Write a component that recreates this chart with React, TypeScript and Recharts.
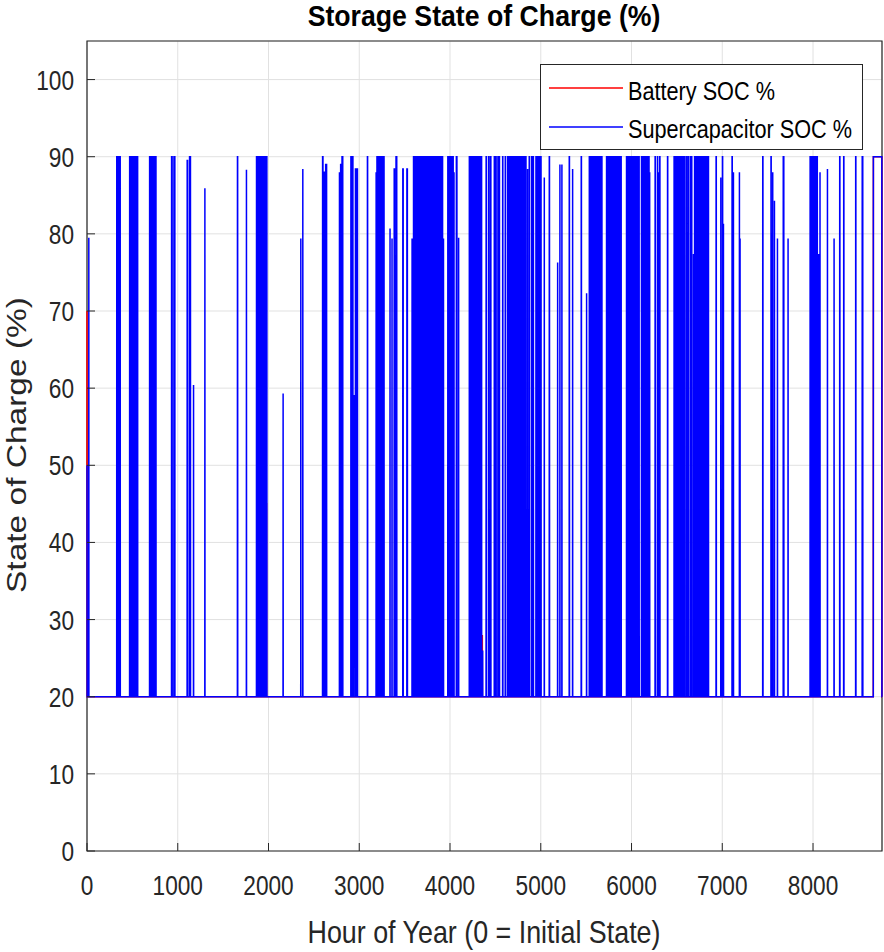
import { LineChart, Line, XAxis, YAxis, CartesianGrid, Legend, ReferenceArea } from 'recharts'

const hourTicks = [0, 1000, 2000, 3000, 4000, 5000, 6000, 7000, 8000]
const socTicks = [0, 10, 20, 30, 40, 50, 60, 70, 80, 90, 100]
const lastHour = 8760
const baseSoc = 20

// first hours of each series, before the pulses start
const batteryStart = [[0, 70], [1, 50], [3, 20]]
const superStart = [[0, 50], [2, 20]]

// battery pulses above the 20 % floor: [from hour, to hour, peak %]
const batteryPulses = [
  [1932, 1940, 49], [1955, 1962, 49], [1975, 1978, 45], [4356, 4356, 28], [8665, 8758, 90],
]

// supercapacitor pulses: [from hour, to hour, peak %]
const superPulses = [
  [20, 20, 79.5],
  [328, 332, 90], [339, 343, 90], [350, 354, 90], [360, 366, 90],
  [470, 476, 90], [482, 486, 90], [494, 500, 90], [505, 512, 90], [520, 526, 90], [530, 536, 90], [542, 550, 90], [553, 558, 90],
  [690, 696, 90], [702, 708, 90], [715, 722, 90], [735, 740, 90], [748, 760, 90],
  [932, 938, 90], [958, 968, 90],
  [1104, 1108, 89.5], [1130, 1140, 90], [1174, 1174, 60.4], [1299, 1299, 85.9],
  [1658, 1660, 90], [1757, 1757, 88.3],
  [1868, 1872, 90], [1885, 1890, 90], [1900, 1906, 90], [1915, 1918, 90], [1930, 1935, 90], [1948, 1955, 90], [1965, 1972, 90], [1978, 1982, 90],
  [2161, 2161, 59.3], [2356, 2356, 79.4], [2378, 2378, 88.4],
  [2596, 2600, 90], [2612, 2615, 88], [2630, 2640, 89],
  [2782, 2782, 88], [2795, 2800, 89], [2810, 2818, 90],
  [2908, 2914, 90], [2925, 2930, 90], [2935, 2950, 59], [2958, 2962, 88.4], [2976, 2980, 88.4],
  [3090, 3092, 90],
  [3186, 3186, 88], [3195, 3200, 90], [3210, 3215, 90], [3225, 3230, 90], [3240, 3246, 90], [3255, 3262, 90], [3268, 3273, 90],
  [3339, 3339, 80.7], [3361, 3361, 79.4], [3385, 3388, 88.4], [3405, 3413, 90],
  [3480, 3484, 88.4], [3525, 3530, 88.4],
  [3582, 3582, 79.4], [3598, 3604, 90], [3615, 3620, 90],
  [3633, 3637, 90], [3643, 3647, 90], [3652, 3656, 90], [3662, 3666, 90], [3671, 3675, 90], [3680, 3684, 90],
  [3690, 3694, 90], [3700, 3704, 90], [3709, 3713, 90], [3718, 3722, 90], [3728, 3732, 90], [3737, 3741, 90],
  [3746, 3750, 90], [3756, 3760, 90], [3766, 3770, 90], [3775, 3779, 90], [3784, 3788, 90], [3794, 3798, 90],
  [3803, 3807, 90], [3812, 3816, 90], [3822, 3826, 90], [3832, 3836, 90], [3841, 3845, 90], [3850, 3854, 90],
  [3860, 3864, 90], [3869, 3873, 90], [3878, 3882, 90], [3888, 3892, 90], [3897, 3901, 90], [3906, 3909, 90],
  [3915, 3918, 90], [3928, 3928, 79.4],
  [3976, 3979, 90], [3986, 3989, 90], [3995, 3998, 90], [4004, 4007, 90], [4013, 4016, 90], [4022, 4025, 90], [4031, 4035, 90],
  [4044, 4044, 88], [4070, 4076, 90], [4095, 4095, 79.5],
  [4213, 4216, 90], [4222, 4225, 90], [4232, 4235, 90], [4241, 4244, 90], [4250, 4253, 90], [4260, 4263, 90],
  [4270, 4273, 90], [4279, 4282, 90], [4288, 4291, 90], [4298, 4301, 90], [4307, 4310, 90], [4316, 4319, 90],
  [4326, 4329, 90], [4335, 4338, 90], [4344, 4348, 90],
  [4360, 4360, 26],
  [4398, 4400, 90], [4425, 4428, 90], [4446, 4450, 90],
  [4488, 4490, 90], [4505, 4508, 90], [4528, 4531, 90], [4541, 4545, 90],
  [4580, 4582, 90], [4609, 4611, 90], [4635, 4637, 90],
  [4653, 4656, 90], [4663, 4666, 90], [4672, 4675, 90], [4682, 4685, 90], [4691, 4694, 90], [4700, 4703, 90],
  [4710, 4713, 90], [4720, 4723, 90], [4729, 4732, 90], [4738, 4741, 90], [4748, 4751, 90], [4757, 4760, 90],
  [4766, 4769, 90], [4776, 4779, 90], [4786, 4789, 90], [4795, 4798, 90], [4804, 4807, 90], [4814, 4817, 90],
  [4823, 4826, 90], [4832, 4837, 90],
  [4855, 4855, 88.4], [4873, 4875, 90], [4899, 4901, 90], [4917, 4919, 90], [4947, 4949, 90], [4965, 4967, 90], [4983, 4985, 90], [5000, 5003, 90],
  [5039, 5039, 87.3], [5094, 5096, 90], [5186, 5186, 76.3], [5211, 5211, 89], [5233, 5233, 89], [5314, 5316, 90], [5351, 5351, 88.4], [5446, 5448, 90],
  [5505, 5505, 72.3],
  [5535, 5538, 90], [5545, 5548, 90], [5554, 5557, 90], [5564, 5567, 90], [5573, 5576, 90], [5583, 5586, 90],
  [5592, 5595, 90], [5602, 5605, 90], [5611, 5614, 90], [5621, 5624, 90], [5630, 5633, 90], [5640, 5643, 90],
  [5649, 5652, 90], [5659, 5662, 90], [5668, 5674, 90],
  [5725, 5728, 90], [5735, 5738, 90], [5744, 5747, 90], [5754, 5757, 90], [5763, 5766, 90], [5773, 5776, 90],
  [5782, 5785, 90], [5792, 5795, 90], [5801, 5804, 90], [5811, 5814, 90], [5820, 5823, 90], [5830, 5833, 90],
  [5839, 5842, 90], [5849, 5852, 90], [5858, 5861, 90], [5868, 5871, 90], [5877, 5886, 90],
  [5945, 5948, 90], [5955, 5958, 90], [5964, 5967, 90], [5974, 5977, 90], [5983, 5986, 90], [5993, 5996, 90],
  [6002, 6005, 90], [6012, 6015, 90], [6021, 6024, 90], [6031, 6034, 90], [6040, 6043, 90], [6050, 6053, 90],
  [6059, 6062, 90], [6069, 6072, 90], [6078, 6084, 90],
  [6110, 6113, 90], [6120, 6123, 90], [6130, 6133, 90], [6140, 6143, 90], [6150, 6153, 90], [6160, 6163, 90],
  [6170, 6173, 90], [6180, 6183, 90], [6190, 6193, 90], [6200, 6200, 88],
  [6260, 6262, 90], [6286, 6288, 90], [6297, 6297, 88], [6311, 6313, 90],
  [6397, 6399, 90], [6469, 6471, 90],
  [6481, 6484, 90], [6490, 6493, 90], [6500, 6503, 90], [6509, 6512, 90], [6519, 6522, 90], [6528, 6531, 90],
  [6538, 6541, 90], [6547, 6550, 90], [6557, 6560, 90], [6566, 6570, 90],
  [6585, 6587, 90], [6606, 6608, 90], [6625, 6627, 90], [6648, 6650, 90], [6662, 6664, 90], [6683, 6683, 77.4],
  [6695, 6698, 90], [6712, 6715, 90], [6728, 6731, 90],
  [6740, 6743, 90], [6750, 6753, 90], [6759, 6762, 90], [6769, 6772, 90], [6778, 6781, 90], [6788, 6791, 90],
  [6797, 6800, 90], [6807, 6810, 90], [6816, 6819, 90], [6826, 6829, 90], [6835, 6838, 90], [6844, 6848, 90],
  [6932, 6934, 90], [6984, 6984, 87.3], [7002, 7004, 90], [7013, 7013, 81.3], [7108, 7110, 90], [7123, 7123, 88],
  [7189, 7189, 88], [7196, 7196, 79.4], [7446, 7448, 90], [7537, 7539, 90], [7556, 7556, 88], [7575, 7575, 84.3],
  [7608, 7608, 79.4], [7672, 7678, 90], [7725, 7725, 79.4],
  [7968, 7971, 90], [7978, 7981, 90], [7988, 7991, 90], [7998, 8001, 90], [8010, 8013, 90], [8020, 8023, 90],
  [8030, 8033, 90], [8045, 8047, 90], [8062, 8062, 77.4], [8077, 8077, 88],
  [8159, 8159, 88.4], [8232, 8232, 79.4], [8294, 8296, 90], [8338, 8340, 90], [8470, 8472, 90], [8542, 8548, 90],
  [8665, 8758, 90],
]

const FONT = '"Liberation Sans", Arial, Helvetica, sans-serif'
const INK = '#262626'

// turn the start values and the pulse list into an hourly step trace
function buildTrace(start: number[][], pulses: number[][]) {
  const pts = start.map(([h, v]) => ({ h, v }))
  pulses.forEach(([from, to, peak]) => {
    pts.push({ h: from - 1, v: baseSoc })
    pts.push({ h: from, v: peak })
    if (to > from) pts.push({ h: to, v: peak })
    pts.push({ h: to + 1, v: baseSoc })
  })
  pts.push({ h: lastHour, v: baseSoc })
  return pts
}

const batteryData = buildTrace(batteryStart, batteryPulses)
const superData = buildTrace(superStart, superPulses)

const BottomTick = ({ x, y, payload }: any) => (
  <g>
    <line x1={x} x2={x} y1={y} y2={y - 8} stroke={INK} />
    <text transform={`translate(${x},${y + 44}) scale(0.84,1)`} textAnchor="middle" fontSize={27} fill={INK} fontFamily={FONT}>
      {payload.value}
    </text>
  </g>
)

const TopTick = ({ x, y }: any) => <line x1={x} x2={x} y1={y} y2={y + 8} stroke={INK} />

const LeftTick = ({ x, y, payload }: any) => (
  <g>
    <line x1={x} x2={x + 8} y1={y} y2={y} stroke={INK} />
    <text transform={`translate(${x - 13},${y + 10}) scale(0.84,1)`} textAnchor="end" fontSize={27} fill={INK} fontFamily={FONT}>
      {payload.value}
    </text>
  </g>
)

const RightTick = ({ x, y }: any) => <line x1={x} x2={x - 8} y1={y} y2={y} stroke={INK} />

const LegendBox = ({ payload }: any) => (
  <div style={{ width: 323, height: 86, border: `1px solid ${INK}`, background: '#fff', boxSizing: 'border-box' }}>
    <svg width={321} height={84}>
      {(payload || []).map((item: any, i: number) => (
        <g key={item.value}>
          <line x1={8} x2={82} y1={23 + i * 39} y2={23 + i * 39} stroke={item.color} strokeWidth={1.4} />
          <text transform={`translate(87,${35 + i * 38}) scale(0.85,1)`} fontSize={25.5} fill="#000" fontFamily={FONT}>
            {item.value}
          </text>
        </g>
      ))}
    </svg>
  </div>
)

export default function App() {
  return (
    <div style={{ position: 'absolute', left: 0, top: 0, width: 884, height: 952, background: '#fff' }}>
      <LineChart width={884} height={952} margin={{ top: 40, right: 1, bottom: 0, left: 0 }}>
        <CartesianGrid stroke="#e1e1e1" strokeWidth={1} />
        <ReferenceArea x1={0} x2={lastHour} y1={0} y2={105} fill="none" fillOpacity={0} stroke={INK} strokeWidth={1.2} ifOverflow="visible" />
        <XAxis dataKey="h" type="number" domain={[0, lastHour]} ticks={hourTicks}
          height={101} axisLine={false} tickLine={false} tickSize={0} tickMargin={0} tick={<BottomTick />} />
        <XAxis xAxisId="top" orientation="top" dataKey="h" type="number" domain={[0, lastHour]} ticks={hourTicks}
          height={1} axisLine={false} tickLine={false} tickSize={0} tickMargin={0} tick={<TopTick />} />
        <YAxis type="number" domain={[0, 105]} ticks={socTicks}
          width={87} axisLine={false} tickLine={false} tickSize={0} tickMargin={0} tick={<LeftTick />} />
        <YAxis yAxisId="right" orientation="right" type="number" domain={[0, 105]} ticks={socTicks}
          width={1} axisLine={false} tickLine={false} tickSize={0} tickMargin={0} tick={<RightTick />} />
        <Line data={batteryData} dataKey="v" name="Battery SOC %" type="linear" stroke="#ff0000" strokeWidth={1.5}
          dot={false} activeDot={false} isAnimationActive={false} />
        <Line data={superData} dataKey="v" name="Supercapacitor SOC %" type="linear" stroke="#0000ff" strokeWidth={1.5}
          dot={false} activeDot={false} isAnimationActive={false} />
        <Legend layout="vertical" align="center" verticalAlign="middle" width={323}
          wrapperStyle={{ left: 540, top: 64 }} content={<LegendBox />} />
      </LineChart>
      <svg width={884} height={952} style={{ position: 'absolute', left: 0, top: 0, pointerEvents: 'none' }}>
        <text transform="translate(484,26) scale(0.92,1)" textAnchor="middle" fontSize={29} fontWeight="bold" fill="#000" fontFamily={FONT}>
          Storage State of Charge (%)
        </text>
        <text transform="translate(484,943) scale(0.85,1)" textAnchor="middle" fontSize={31.6} fill={INK} fontFamily={FONT}>
          Hour of Year (0 = Initial State)
        </text>
        <text transform="translate(26,445) rotate(-90) scale(1,0.85)" textAnchor="middle" fontSize={33.5} fill={INK} fontFamily={FONT}>
          State of Charge (%)
        </text>
      </svg>
    </div>
  )
}
